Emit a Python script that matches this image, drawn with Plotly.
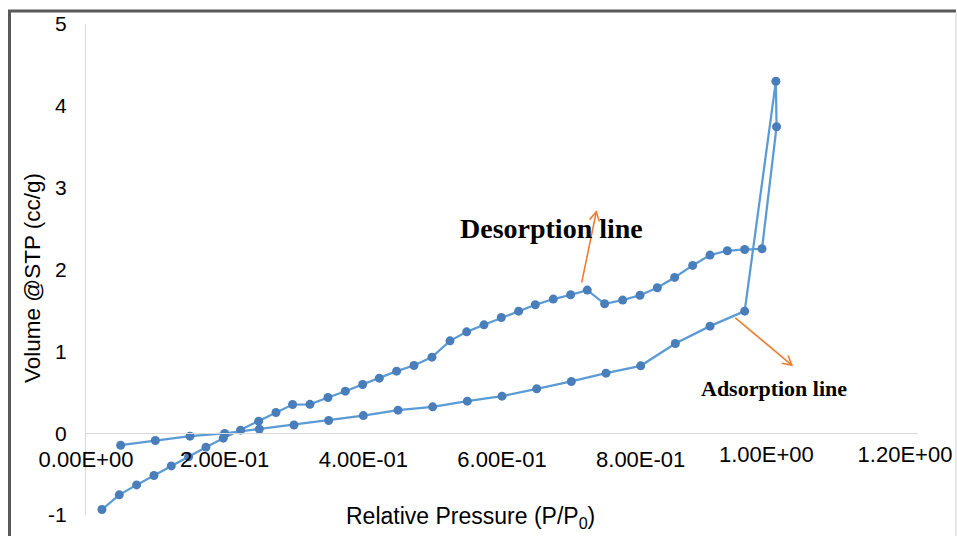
import math
import plotly.graph_objects as go

# Nitrogen isotherm: relative pressure (P/P0) vs adsorbed volume (cc/g)
ads_p = [0.05, 0.10, 0.15, 0.20, 0.25, 0.30, 0.35, 0.40, 0.45, 0.50,
         0.55, 0.60, 0.65, 0.70, 0.75, 0.80, 0.85, 0.90, 0.95, 0.995]
ads_v = [-0.147, -0.09, -0.037, -0.004, 0.05, 0.10, 0.155, 0.215, 0.281, 0.322,
         0.391, 0.452, 0.542, 0.632, 0.733, 0.823, 1.096, 1.308, 1.491, 4.30]

des_p = [0.996, 0.975, 0.950, 0.925, 0.900, 0.875, 0.849, 0.824, 0.799, 0.774,
         0.748, 0.723, 0.699, 0.674, 0.648, 0.624, 0.599, 0.574, 0.549, 0.525,
         0.499, 0.473, 0.448, 0.423, 0.399, 0.374, 0.349, 0.323, 0.298, 0.274,
         0.249, 0.223, 0.198, 0.173, 0.148, 0.123, 0.098, 0.073, 0.048, 0.023]
des_v = [3.745, 2.253, 2.245, 2.229, 2.176, 2.05, 1.903, 1.777, 1.685, 1.626,
         1.581, 1.748, 1.691, 1.638, 1.569, 1.491, 1.414, 1.324, 1.238, 1.128,
         0.929, 0.827, 0.758, 0.672, 0.595, 0.513, 0.436, 0.352, 0.35, 0.253,
         0.147, 0.037, -0.061, -0.171, -0.289, -0.40, -0.517, -0.632, -0.754, -0.933]

# x tick labels; the two right-most labels are nudged left to stay inside the frame
x_ticks = [0.0, 0.2, 0.4, 0.6, 0.8]
x_tick_text = ["0.00E+00", "2.00E-01", "4.00E-01", "6.00E-01", "8.00E-01"]
x_ticks_end = [1.0, 1.2]
x_tick_text_end = ["1.00E+00", "1.20E+00"]
y_ticks = [-1, 0, 1, 2, 3, 4, 5]
y_tick_text = ["-1", "0", "1", "2", "3", "4", "5"]

# callout arrows (tail -> head) in data units
des_arrow = ((0.715, 1.842), (0.736, 2.705))
ads_arrow = ((0.9365, 1.41), (1.018, 0.831))

W, H = 957, 536
ML, MR, MT, MB = 86, 39, 24, 21
PW, PH = W - ML - MR, H - MT - MB
X_MIN, X_MAX = 0.0, 1.2
Y_MIN, Y_MAX = -1, 5

def px_x(p):
    return (p - ML) / PW

def px_y(p):
    return (H - MB - p) / PH

def to_px(x, y):
    return (ML + (x - X_MIN) / (X_MAX - X_MIN) * PW,
            MT + (Y_MAX - y) / (Y_MAX - Y_MIN) * PH)

def to_data(px, py):
    return (X_MIN + (px - ML) / PW * (X_MAX - X_MIN),
            Y_MAX - (py - MT) / PH * (Y_MAX - Y_MIN))

ARROW = "#ed7d31"

def arrow_shapes(tail, head, length=9.0, half=5.0):
    tx, ty = to_px(*tail)
    hx, hy = to_px(*head)
    d = math.hypot(hx - tx, hy - ty)
    ux, uy = (hx - tx) / d, (hy - ty) / d
    nx, ny = -uy, ux
    w1 = to_data(hx - length * ux + half * nx, hy - length * uy + half * ny)
    w2 = to_data(hx - length * ux - half * nx, hy - length * uy - half * ny)
    line = dict(type="line", xref="x", yref="y",
                x0=tail[0], y0=tail[1], x1=head[0], y1=head[1],
                line=dict(color=ARROW, width=1.6))
    tip = dict(type="path", xref="x", yref="y",
               path=f"M{w1[0]},{w1[1]} L{head[0]},{head[1]} L{w2[0]},{w2[1]}",
               line=dict(color=ARROW, width=1.6))
    return [line, tip]

SANS = "Arial, Liberation Sans, sans-serif"
SERIF = "Times New Roman, Liberation Serif, serif"
ZERO_POS = (0 - Y_MIN) / (Y_MAX - Y_MIN)

fig = go.Figure()
fig.add_trace(go.Scatter(
    x=ads_p + des_p, y=ads_v + des_v,
    mode="lines+markers",
    line=dict(color="#5b9bd5", width=2.25),
    marker=dict(color="#4a7ebb", size=9),
    showlegend=False,
))
# empty carrier trace so the overlaid label axis is drawn
fig.add_trace(go.Scatter(
    x=x_ticks_end, y=[None] * len(x_ticks_end), xaxis="x2", yaxis="y",
    mode="markers", showlegend=False, hoverinfo="skip",
))

shapes = [
    # outer frame: top and left dark edges, light right edge
    dict(type="line", xref="paper", yref="paper",
         x0=px_x(8), x1=px_x(956), y0=px_y(11), y1=px_y(11),
         line=dict(color="#595959", width=3)),
    dict(type="line", xref="paper", yref="paper",
         x0=px_x(9.5), x1=px_x(9.5), y0=px_y(10), y1=px_y(540),
         line=dict(color="#595959", width=3)),
    dict(type="line", xref="paper", yref="paper",
         x0=px_x(956), x1=px_x(956), y0=px_y(12), y1=px_y(540),
         line=dict(color="#d0d0d0", width=1)),
]
shapes += arrow_shapes(*des_arrow)
shapes += arrow_shapes(*ads_arrow)

tick_font = dict(size=22, family=SANS, color="black")

fig.update_layout(
    width=W, height=H,
    margin=dict(l=ML, r=MR, t=MT, b=MB, autoexpand=False),
    paper_bgcolor="white", plot_bgcolor="white",
    font=dict(family=SANS, color="black"),
    xaxis=dict(
        range=[X_MIN, X_MAX], tickvals=x_ticks, ticktext=x_tick_text,
        showgrid=False, zeroline=False, showline=True,
        linecolor="#d9d9d9", linewidth=1.3,
        anchor="free", position=ZERO_POS,
        ticks="", ticklabelstandoff=6,
        tickfont=tick_font, automargin=False,
    ),
    xaxis2=dict(
        range=[X_MIN, X_MAX], tickvals=x_ticks_end, ticktext=x_tick_text_end,
        overlaying="x",
        showgrid=False, zeroline=False, showline=False,
        anchor="free", position=ZERO_POS, side="bottom",
        ticks="", ticklabelstandoff=6, ticklabelshift=-13,
        tickfont=tick_font, automargin=False,
    ),
    yaxis=dict(
        range=[Y_MIN, Y_MAX], tickvals=y_ticks, ticktext=y_tick_text,
        showgrid=False, zeroline=False, showline=True,
        linecolor="#d9d9d9", linewidth=1.3,
        ticks="", ticklabelstandoff=14,
        tickfont=dict(size=21, family=SANS, color="black"),
        automargin=False,
    ),
    annotations=[
        dict(text="Relative Pressure (P/P<sub>0</sub>)", xref="paper", yref="paper",
             x=px_x(470), y=px_y(517), xanchor="center", yanchor="middle",
             showarrow=False, font=dict(size=23, family=SANS, color="black")),
        dict(text="Volume @STP (cc/g)", xref="paper", yref="paper",
             x=px_x(32), y=px_y(278), xanchor="center", yanchor="middle",
             textangle=-90, showarrow=False,
             font=dict(size=22.5, family=SANS, color="black")),
        dict(text="<b>Desorption line</b>", xref="x", yref="y",
             x=0.672, y=2.50, xanchor="center", yanchor="middle",
             showarrow=False, font=dict(size=28, family=SERIF, color="black")),
        dict(text="<b>Adsorption line</b>", xref="x", yref="y",
             x=0.993, y=0.55, xanchor="center", yanchor="middle",
             showarrow=False, font=dict(size=22, family=SERIF, color="black")),
    ],
    shapes=shapes,
)

fig.write_html("out.html")
